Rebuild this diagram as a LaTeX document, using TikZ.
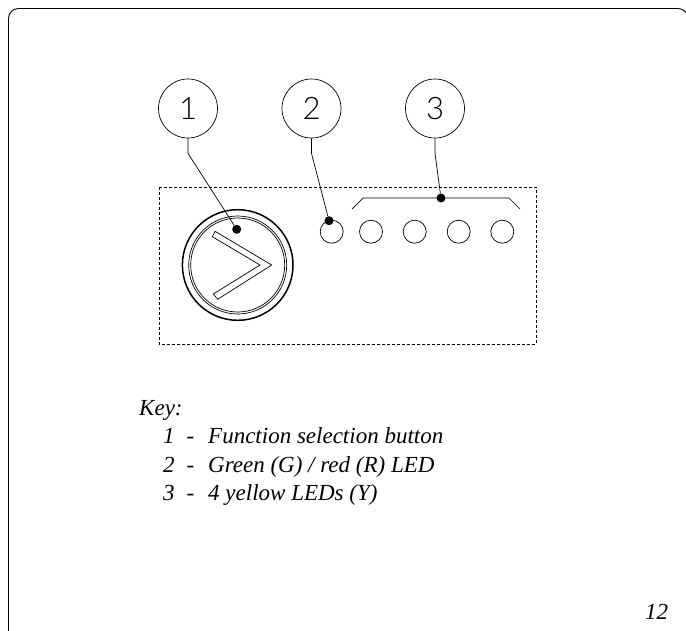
\documentclass[tikz,border=0pt]{standalone}
\usepackage{fontspec}
\setmainfont{Liberation Serif}
\newfontfamily\digitfont{Lato Light}
\tikzset{
	bubble/.style={draw, circle, minimum size=59pt, inner sep=0pt, line width=0.7pt, font=\digitfont\fontsize{31}{31}\selectfont},
	led/.style={draw, circle, minimum size=23pt, inner sep=0pt, line width=0.7pt},
	leader/.style={line width=0.7pt},
	tipdot/.style={fill, circle, minimum size=9pt, inner sep=0pt},
	keytext/.style={anchor=base west, inner sep=0pt, font=\itshape\fontsize{23}{23}\selectfont}
}
\begin{document}
\begin{tikzpicture}[x=1pt, y=-1pt]
		\useasboundingbox (0,0) rectangle (686,630);
		\draw[line width=0.9pt, rounded corners=10pt] (8.5,640) -- (8.5,8.5) -- (688,8.5) -- (688,640);

		\draw[dash pattern=on 3pt off 2pt, line width=0.7pt] (159,187) rectangle (536,344);

		\node[bubble] (one) at (188,108.5) {1};
		\node[bubble] (two) at (311.5,108.5) {2};
		\node[bubble] (three) at (435,108.5) {3};

		% button
		\draw[line width=1.5pt] (237.7,265) circle [radius=55.3];
		\draw[line width=0.7pt] (237.7,265) circle [radius=49];
		\draw[line width=0.7pt] (237.7,265) circle [radius=47];
		\draw[line width=0.7pt] (215,231.3) -- (271.7,265) -- (217.7,299.3) -- (213.3,294) -- (260,265) -- (212.3,236.7) -- cycle;

		% leds
		\node[led] (ledg) at (331.7,231.7) {};
		\node[led] (leda) at (371,231.7) {};
		\node[led] (ledb) at (414.7,231.7) {};
		\node[led] (ledc) at (458.7,231.7) {};
		\node[led] (ledd) at (502.3,231.7) {};

		% bracket
		\coordinate (brl) at (352,209);
		\coordinate (brr) at (520,209);
		\draw[leader] (brl) -- (363,198) -- (509,198) -- (brr);

		\node[tipdot] (dotone) at (236.7,229.3) {};
		\node[tipdot] (dottwo) at (329,220.7) {};
		\node[tipdot] (dotthree) at (441,198) {};
		\draw[leader] (one.south) -- ++(0,15) -- (dotone);
		\draw[leader] (two.south) -- ++(0,15) -- (dottwo);
		\draw[leader] (three.south) -- ++(0,15) -- (dotthree);

		\node[keytext] (key) at (139,415) {Key:};
		\node[keytext] (numone) at (163,443) {1};
		\node[keytext] (dashone) at (186.5,443) {-};
		\node[keytext] (txtone) at (208,443) {Function selection button};
		\node[keytext] (numtwo) at (163,472) {2};
		\node[keytext] (dashtwo) at (186.5,472) {-};
		\node[keytext] (txttwo) at (208,472) {Green (G) / red (R) LED};
		\node[keytext] (numthree) at (163,500.5) {3};
		\node[keytext] (dashthree) at (186.5,500.5) {-};
		\node[keytext] (txtthree) at (208,500.5) {4 yellow LEDs (Y)};
		\node[keytext] (page) at (645,619) {12};
	\end{tikzpicture}
\end{document}
